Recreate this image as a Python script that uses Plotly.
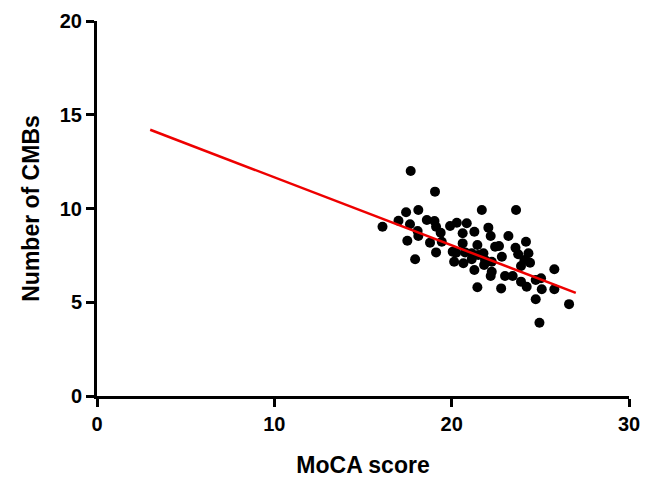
import plotly.graph_objects as go

moca = [16.1, 17.0, 17.43, 17.65, 17.69, 18.12, 18.08, 18.12, 17.5, 17.94,
        18.6, 19.03, 19.12, 19.38, 18.78, 19.44, 19.12, 19.06, 19.91, 20.29,
        20.85, 21.7, 22.07, 20.62, 21.28, 22.2, 20.62, 21.45, 22.45, 22.67,
        20.06, 20.25, 20.76, 21.13, 21.79, 20.14, 20.66, 21.13, 21.88, 22.26,
        21.28, 21.83, 22.26, 21.45, 23.63, 23.2, 24.19, 23.6, 23.75, 24.33,
        22.83, 24.1, 24.42, 23.91, 25.79, 23.01, 23.44, 23.91, 24.23, 24.74,
        25.04, 25.08, 25.79, 22.79, 24.74, 26.62, 24.95, 22.2, 21.5]
cmbs = [9.03, 9.35, 9.8, 9.16, 12.0, 9.92, 8.8, 8.53, 8.28, 7.29,
        9.39, 9.33, 9.03, 8.71, 8.18, 8.23, 7.66, 10.9, 9.07, 9.24,
        9.21, 9.92, 8.98, 8.68, 8.76, 8.53, 8.14, 8.05, 7.96, 8.0,
        7.7, 7.64, 7.66, 7.61, 7.61, 7.16, 7.08, 7.29, 7.25, 7.16,
        6.72, 6.99, 6.63, 5.8, 9.92, 8.53, 8.23, 7.91, 7.56, 7.61,
        7.43, 7.25, 7.11, 6.93, 6.76, 6.4, 6.4, 6.1, 5.83, 6.19,
        6.28, 5.69, 5.69, 5.74, 5.16, 4.9, 3.91, 6.4, 7.52]

fit_x = [3, 27]
fit_y = [14.2, 5.5]

x_ticks = [0, 10, 20, 30]
y_ticks = [0, 5, 10, 15, 20]

fig = go.Figure()
fig.add_trace(go.Scatter(x=moca, y=cmbs, mode="markers",
                         marker=dict(color="black", size=10, line=dict(width=0)),
                         showlegend=False))
fig.add_trace(go.Scatter(x=fit_x, y=fit_y, mode="lines",
                         line=dict(color="#ee0000", width=2.5), showlegend=False))

font = "Liberation Sans, Arial, sans-serif"
# page body has an 8px default margin, so the figure is shrunk by 8px
fig.update_layout(
    width=640, height=477,
    margin=dict(l=89, r=19, t=13, b=89),
    paper_bgcolor="white", plot_bgcolor="white",
    font=dict(family=font, color="black"),
    xaxis=dict(range=[0, 30], tickvals=x_ticks, showline=True, linewidth=3,
               linecolor="black", ticks="outside", ticklen=8, tickwidth=3,
               tickcolor="black", showgrid=False, zeroline=False, automargin=False,
               tickfont=dict(size=20, family=font, color="black", weight="bold"),
               title=dict(text="MoCA score",
                          font=dict(size=23, family=font, weight="bold"),
                          standoff=23)),
    yaxis=dict(range=[0, 20], tickvals=y_ticks, showline=True, linewidth=3,
               linecolor="black", ticks="outside", ticklen=8, tickwidth=3,
               tickcolor="black", showgrid=False, zeroline=False, automargin=False,
               tickfont=dict(size=20, family=font, color="black", weight="bold"),
               title=dict(text="Number of CMBs",
                          font=dict(size=23, family=font, weight="bold"),
                          standoff=14)),
)
fig.write_html("out.html")
